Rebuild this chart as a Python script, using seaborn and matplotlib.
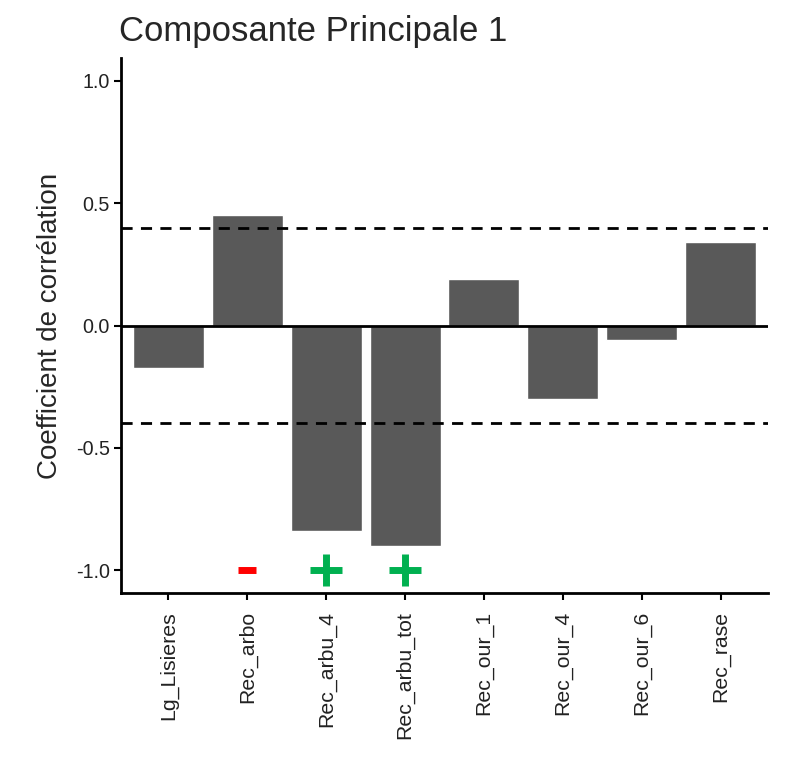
import matplotlib
matplotlib.use("Agg")
import matplotlib.pyplot as plt
import seaborn as sns
import pandas as pd

variables = ["Lg_Lisieres", "Rec_arbo", "Rec_arbu_4", "Rec_arbu_tot",
             "Rec_our_1", "Rec_our_4", "Rec_our_6", "Rec_rase"]
correlations = [-0.175, 0.45, -0.84, -0.90, 0.19, -0.30, -0.06, 0.34]
threshold = 0.4

# Sign annotations under selected variables
sign_vars = ["Rec_arbo", "Rec_arbu_4", "Rec_arbu_tot"]
sign_marks = ["_", "+", "+"]
sign_colors = ["#FF0000", "#00B050", "#00B050"]
sign_y = -1.0

sns.set_theme(style="white")
plt.rcParams["font.family"] = ["Liberation Sans", "DejaVu Sans"]

df = pd.DataFrame({"variable": variables, "cor": correlations})

fig = plt.figure(figsize=(7.88, 7.57), dpi=100)
ax = fig.add_axes([0.1536, 0.2166, 0.8210, 0.7068])

sns.barplot(data=df, x="variable", y="cor", color="#595959", saturation=1,
            width=0.9, ax=ax, order=variables)

ax.axhline(0, color="black", lw=2, zorder=3)
for t in (threshold, -threshold):
    ax.axhline(t, color="black", lw=2, ls=(0, (4, 3)), zorder=3)

for v, m, c in zip(sign_vars, sign_marks, sign_colors):
    xi = variables.index(v)
    size = 13 if m == "_" else 23
    ax.plot([xi], [sign_y], marker=m, color=c, markersize=size,
            markeredgewidth=5, linestyle="none", zorder=4)

ax.set_xlim(-0.6, len(variables) - 0.4)
ax.set_ylim(-1.094, 1.094)
ax.set_yticks([-1.0, -0.5, 0.0, 0.5, 1.0])
ax.set_yticklabels(["-1.0", "-0.5", "0.0", "0.5", "1.0"])

for s in ("top", "right"):
    ax.spines[s].set_visible(False)
for s in ("left", "bottom"):
    ax.spines[s].set_linewidth(2)
    ax.spines[s].set_color("black")

ax.tick_params(axis="both", which="major", length=5, width=1.5,
               color="black", direction="out", bottom=True, left=True)
ax.tick_params(axis="y", labelsize=14.2, labelcolor="#222222", pad=3)
ax.tick_params(axis="x", labelsize=15.3, labelcolor="#222222", pad=8)
plt.setp(ax.get_xticklabels(), rotation=90)

ax.set_xlabel("")
ax.set_ylabel("Coefficient de corrélation", fontsize=20, labelpad=9)
ax.set_title("Composante Principale 1", loc="left", fontsize=25, pad=12,
             x=-0.003)

fig.savefig("out.png", dpi=100, facecolor="white")
